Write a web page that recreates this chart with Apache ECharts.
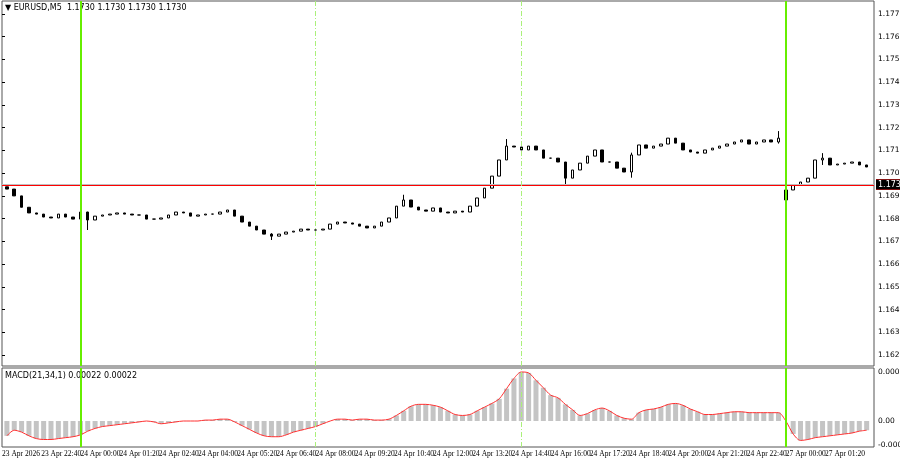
<!DOCTYPE html>
<html><head><meta charset="utf-8">
<script src="https://cdn.jsdelivr.net/npm/echarts@6/dist/echarts.min.js"></script>
<style>html,body{margin:0;background:#fff}#c{width:900px;height:460px}</style>
</head><body><div id="c"></div>
<script>
// M15 closes (each candle spans 3 M5 bars)
const closes = [
  1.1698,1.1695,1.1690,1.16875,1.1687,1.16857,1.16853,1.1687,1.16857,1.16848,
  1.16879,1.16844,1.16861,1.16866,1.1687,1.16875,1.1687,1.16866,1.16866,1.16848,
  1.16848,1.16853,1.16866,1.16879,1.16875,1.16861,1.16866,1.1687,1.1687,1.16879,
  1.16888,1.16861,1.16835,1.16817,1.1680,1.16782,1.16773,1.16782,1.16791,1.16795,
  1.16804,1.1680,1.1680,1.16804,1.16826,1.16835,1.16831,1.16826,1.16817,1.16809,
  1.16817,1.16835,1.16853,1.16905,1.16932,1.16901,1.16888,1.16883,1.16897,1.16879,
  1.16875,1.16883,1.16879,1.16905,1.16941,1.16984,1.17037,1.17108,1.17169,1.17165,
  1.17152,1.17169,1.17152,1.17116,1.17116,1.17099,1.17028,1.17064,1.17094,1.17125,
  1.17152,1.17099,1.17099,1.17072,1.17055,1.1713,1.17174,1.1716,1.17169,1.17178,
  1.17204,1.17182,1.17152,1.17143,1.17138,1.17152,1.1716,1.17169,1.17178,1.17187,
  1.17196,1.17178,1.17187,1.17196,1.17187,1.17204,1.16976,1.16998,1.17011,1.17028,
  1.17108,1.17116,1.17086,1.1709,1.17094,1.17099,1.17086,1.17077
];
const firstOpen = 1.1699;
const gapIndex = 106;
const gapOpen = 1.16932;
// [candle, low, high] for visible wicks
const spikes = [[11,1.1680,1.1688],[36,1.16756,1.16786],[54,1.16905,1.16955],[68,1.17108,1.17200],
  [76,1.1700,1.17064],[85,1.1703,1.1714],[105,1.1718,1.17235],[106,1.16932,1.1700],[111,1.17086,1.17138]];

// MACD per candle, in 1e-5
const macd = [
  -16,-10,-12,-16,-19,-20,-20,-19,-18,-17,-15,-11,-8,-6,-5,-4,-3,-2,-1,0,
  -1,-3,-2,-1,0,0,0,1,1,2,2,-1,-5,-9,-13,-16,-17,-17,-15,-12,
  -10,-8,-6,-3,0,2,2,1,2,2,1,1,2,6,11,16,18,18,17,15,
  11,7,6,7,11,15,19,24,35,46,53,52,44,36,28,25,18,12,6,8,
  12,14,11,6,3,2,9,12,13,15,18,19,17,13,10,7,7,8,9,10,
  10,9,9,9,9,9,0,-14,-21,-20,-18,-17,-16,-15,-14,-13,-11,-10
];

const timeLabels = ['23 Apr 2026','23 Apr 22:40','24 Apr 00:00','24 Apr 01:20','24 Apr 02:40','24 Apr 04:00',
  '24 Apr 05:20','24 Apr 06:40','24 Apr 08:00','24 Apr 09:20','24 Apr 10:40','24 Apr 12:00','24 Apr 13:20',
  '24 Apr 14:40','24 Apr 16:00','24 Apr 17:20','24 Apr 18:40','24 Apr 20:00','24 Apr 21:20','24 Apr 22:40',
  '27 Apr 00:00','27 Apr 01:20','27 Apr 02:40'];
const priceTicks = [1.1625,1.1635,1.1645,1.1655,1.1665,1.1675,1.1685,1.1695,1.1705,1.1715,1.1725,1.1735,1.1745,1.1755,1.1765,1.1775];
const levels = [[1.1754,2,'#ff0000'],[1.1745,1,'#ff3030'],[1.1666,2,'#ff0000'],[1.1655,1,'#ff3030']];
const currentPrice = 1.1730;
const solidVLines = [32,320];
const dashVLines = [128,212];

const barsPerLabel = 16;
const xOf = i => 3 * i + 2;
const candles = closes.map((c, i) => {
  const o = i === 0 ? firstOpen : i === gapIndex ? gapOpen : closes[i - 1];
  let lo = Math.min(o, c), hi = Math.max(o, c);
  const s = spikes.find(s => s[0] === i);
  if (s) { lo = Math.min(lo, s[1]); hi = Math.max(hi, s[2]); }
  return [xOf(i), o, c, lo, hi];
});
const xBase = { type: 'value', min: 0, max: 356, splitLine: { show: false }, axisTick: { show: false },
  axisLine: { show: false } };
const vLineData = solidVLines.map(v => ({ xAxis: v, lineStyle: { color: '#66ee00', width: 2, type: 'solid' } }))
  .concat(dashVLines.map(v => ({ xAxis: v, lineStyle: { color: '#aaf07a', width: 1, type: [5, 2, 1, 2] } })));
const lvlLabel = (v, bg) => ({ show: true, position: 'end', distance: 2, formatter: v.toFixed(4), backgroundColor: bg,
  color: '#fff', fontSize: 8, padding: [1, 2] });

const chart = echarts.init(document.getElementById('c'));
chart.setOption({
  animation: false,
  textStyle: { fontFamily: 'DejaVu Sans' },
  graphic: [
    { type: 'text', left: 5, top: 4, style: { text: '▼ EURUSD,M5  1.1730 1.1730 1.1730 1.1730', font: '8px DejaVu Sans', fill: '#000' } },
    { type: 'text', left: 5, top: 372, style: { text: 'MACD(21,34,1) 0.00022 0.00022', font: '8px DejaVu Sans', fill: '#000' } }
  ],
  grid: [
    { left: 2, right: 26, top: 1, height: 365, show: true, borderColor: '#555', borderWidth: 1, outerBoundsMode: 'none', containLabel: false },
    { left: 2, right: 26, top: 368, height: 79, show: true, borderColor: '#555', borderWidth: 1, outerBoundsMode: 'none', containLabel: false }
  ],
  xAxis: [
    Object.assign({ gridIndex: 0, axisLabel: { show: false } }, xBase),
    Object.assign({ gridIndex: 1, axisLabel: {
      customValues: timeLabels.map((_, k) => k * barsPerLabel), align: 'left', fontSize: 7.5, color: '#000', margin: 3,
      fontFamily: 'Liberation Sans Narrow', hideOverlap: false,
      formatter: v => timeLabels[Math.round(v / barsPerLabel)] } }, xBase)
  ],
  yAxis: [
    { gridIndex: 0, type: 'value', position: 'right', min: 1.16202, max: 1.17807, splitLine: { show: false },
      axisLine: { show: false }, axisTick: { show: true, length: 3, customValues: priceTicks, lineStyle: { color: '#000' } },
      axisLabel: { customValues: priceTicks, fontSize: 7.5, color: '#000', margin: 4, formatter: v => v.toFixed(4) } },
    { gridIndex: 1, type: 'value', position: 'right', min: -0.000281, max: 0.000573, splitLine: { show: false },
      axisLine: { show: false }, axisTick: { show: false },
      axisLabel: { customValues: [0.00053, 0, -0.00026], fontSize: 7.5, color: '#000', margin: 4,
        formatter: v => v === 0 ? '0.00' : v.toFixed(5) } }
  ],
  series: [
    { type: 'line', xAxisIndex: 0, yAxisIndex: 0, data: [], silent: true,
      markLine: { symbol: 'none', silent: true,
        data: levels.map(l => ({ yAxis: l[0], lineStyle: { color: l[2], width: l[1], type: 'solid' }, label: lvlLabel(l[0], '#ff0000') }))
          .concat([{ yAxis: currentPrice, lineStyle: { color: '#c0c0c0', width: 1, type: 'solid' }, label: lvlLabel(currentPrice, '#000') }])
          .concat(vLineData.map(d => Object.assign({ label: { show: false } }, d))) } },
    { type: 'candlestick', xAxisIndex: 0, yAxisIndex: 0, data: candles, encode: { x: 0, y: [1, 2, 3, 4] },
      barWidth: 3,
      itemStyle: { color: '#ffffff', color0: '#000000', borderColor: '#000000', borderColor0: '#000000', borderWidth: 1 } },
    { type: 'bar', xAxisIndex: 1, yAxisIndex: 1, barWidth: 5, itemStyle: { color: '#c4c4c4' },
      data: macd.map((v, i) => [xOf(i), v / 1e5]),
      markLine: { symbol: 'none', silent: true, data: vLineData.map(d => Object.assign({ label: { show: false } }, d)) } },
    { type: 'line', xAxisIndex: 1, yAxisIndex: 1, symbol: 'none', smooth: 0.3, lineStyle: { color: '#ff3030', width: 1 },
      data: macd.map((v, i) => [xOf(i), v / 1e5]) }
  ]
});
</script></body></html>
